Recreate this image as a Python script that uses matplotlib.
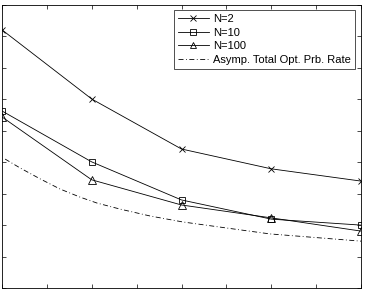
"""Rates vs. parameter, MATLAB-style line chart without tick labels."""
import numpy as np
import matplotlib.pyplot as plt

plt.rcParams['font.family'] = ['Liberation Sans', 'DejaVu Sans']

# data
x_pts = [0, 2, 4, 6, 8]
rate_n2 = [8.21, 6.01, 4.42, 3.79, 3.40]
rate_n10 = [5.63, 4.01, 2.80, 2.19, 2.00]
rate_n100 = [5.44, 3.44, 2.64, 2.23, 1.81]

x_asym = [0.07, 0.40, 0.85, 1.29, 1.74, 2.12, 2.63, 3.30, 4.03, 5.30, 5.97, 8.0]
rate_asym = [4.10, 3.82, 3.47, 3.15, 2.89, 2.70, 2.51, 2.29, 2.10, 1.85, 1.72, 1.49]

labels = ['N=2', 'N=10', 'N=100', 'Asymp. Total Opt. Prb. Rate']

fig = plt.figure(figsize=(3.67, 2.94), dpi=100)
ax = fig.add_axes([2 / 367, 6 / 294, 359 / 367, 283 / 294])

lw = 0.6
ax.plot(x_pts, rate_n2, '-x', color='black', lw=lw, ms=5, mew=0.6, label=labels[0])
ax.plot(x_pts, rate_n10, '-s', color='black', lw=lw, ms=5, mew=0.6,
        mfc='none', label=labels[1])
ax.plot(x_pts, rate_n100, '-^', color='black', lw=lw, ms=5.5, mew=0.6,
        mfc='none', label=labels[2])
ax.plot(x_asym, rate_asym, color='black', lw=lw, dashes=(6, 3, 1, 3),
        label=labels[3])

ax.set_xlim(0, 8)
ax.set_ylim(0, 9)
ax.set_xticks(np.arange(0, 9, 1))
ax.set_yticks(np.arange(0, 10, 1))
ax.tick_params(direction='in', length=3, width=0.5, top=True, right=True,
               labelbottom=False, labelleft=False)
for s in ax.spines.values():
    s.set_linewidth(0.6)

leg = ax.legend(loc='upper right', bbox_to_anchor=(0.983, 0.982), fontsize=8,
                frameon=True, fancybox=False, edgecolor='black',
                handlelength=2.8, borderpad=0.35, labelspacing=0.33,
                handletextpad=0.4, borderaxespad=0, markerscale=0.75)
leg.get_frame().set_linewidth(0.6)

fig.savefig('out.png', dpi=100)
